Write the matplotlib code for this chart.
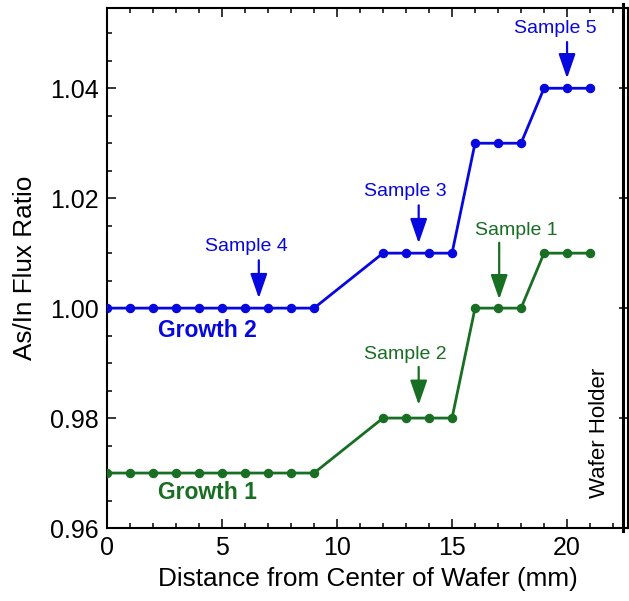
import matplotlib
matplotlib.use("Agg")
import matplotlib.pyplot as plt
from matplotlib.ticker import MultipleLocator

plt.rcParams['font.family'] = ['Liberation Sans', 'DejaVu Sans']

# Data
distance = [0, 1, 2, 3, 4, 5, 6, 7, 8, 9, 12, 13, 14, 15, 16, 17, 18, 19, 20, 21]
growth2 = [1.00, 1.00, 1.00, 1.00, 1.00, 1.00, 1.00, 1.00, 1.00, 1.00,
           1.01, 1.01, 1.01, 1.01, 1.03, 1.03, 1.03, 1.04, 1.04, 1.04]
growth1 = [0.97, 0.97, 0.97, 0.97, 0.97, 0.97, 0.97, 0.97, 0.97, 0.97,
           0.98, 0.98, 0.98, 0.98, 1.00, 1.00, 1.00, 1.01, 1.01, 1.01]

sample_labels = ["Sample 4", "Sample 3", "Sample 5", "Sample 1", "Sample 2"]
sample_arrow_x = [6.6, 13.55, 20.0, 17.05, 13.55]
sample_arrow_tail = [1.0087, 1.0187, 1.0484, 1.0119, 0.9893]
sample_arrow_tip = [1.0018, 1.0118, 1.0418, 1.0016, 0.9824]
sample_text_x = [6.07, 12.96, 19.5, 17.8, 12.96]
sample_text_y = [1.0113, 1.0212, 1.0509, 1.0142, 0.9916]
sample_color_key = ["g2", "g2", "g2", "g1", "g1"]

BLUE = '#0707E0'
GREEN = '#186E22'
colors = {"g2": BLUE, "g1": GREEN}

fig = plt.figure(figsize=(6.29, 6.01), dpi=100)
ax = fig.add_axes([107/629, (601-528)/601, (628-107)/629, (528-8)/601])

ax.plot(distance, growth2, '-o', color=BLUE, lw=2.0, ms=5.8, zorder=3)
ax.plot(distance, growth1, '-o', color=GREEN, lw=2.0, ms=5.8, zorder=3)

for lab, ax_x, tail, tip, tx, ty, ck in zip(sample_labels, sample_arrow_x, sample_arrow_tail,
                                           sample_arrow_tip, sample_text_x, sample_text_y,
                                           sample_color_key):
    c = colors[ck]
    ax.annotate('', xy=(ax_x, tip), xytext=(ax_x, tail),
                arrowprops=dict(arrowstyle='-|>,head_length=0.75,head_width=0.26',
                                color=c, lw=1.6, mutation_scale=20,
                                shrinkA=0, shrinkB=0))
    ax.text(tx, ty, lab, color=c, fontsize=14, ha='center', va='center')

ax.text(4.35, 0.996, 'Growth 2', color=BLUE, fontsize=16.5, fontweight='bold',
        ha='center', va='center')
ax.text(4.35, 0.9665, 'Growth 1', color=GREEN, fontsize=16.5, fontweight='bold',
        ha='center', va='center')
ax.text(21.43, 0.9773, 'Wafer Holder', color='black', fontsize=16, rotation=90,
        ha='center', va='center')

ax.axvline(22.43, ymin=-0.006, ymax=1.008, color='black', lw=2.2, clip_on=False, zorder=4)

ax.set_xlim(0, 22.65)
ax.set_ylim(0.96, 1.0546)
ax.xaxis.set_major_locator(MultipleLocator(5))
ax.xaxis.set_minor_locator(MultipleLocator(1))
ax.yaxis.set_major_locator(MultipleLocator(0.02))
ax.yaxis.set_minor_locator(MultipleLocator(0.005))
ax.yaxis.set_major_formatter(matplotlib.ticker.FormatStrFormatter('%.2f'))

ax.tick_params(which='both', direction='in', top=True, right=True, width=1.1,
               labelsize=18)
ax.tick_params(which='major', length=6.5, pad=6)
ax.tick_params(which='minor', length=3.8)
ax.tick_params(axis='y', which='minor', right=False)

for s in ax.spines.values():
    s.set_linewidth(1.5)

ax.set_xlabel('Distance from Center of Wafer (mm)', fontsize=18.8, labelpad=5)
ax.set_ylabel('As/In Flux Ratio', fontsize=18.8, labelpad=9)

fig.savefig('out.png', dpi=100)
